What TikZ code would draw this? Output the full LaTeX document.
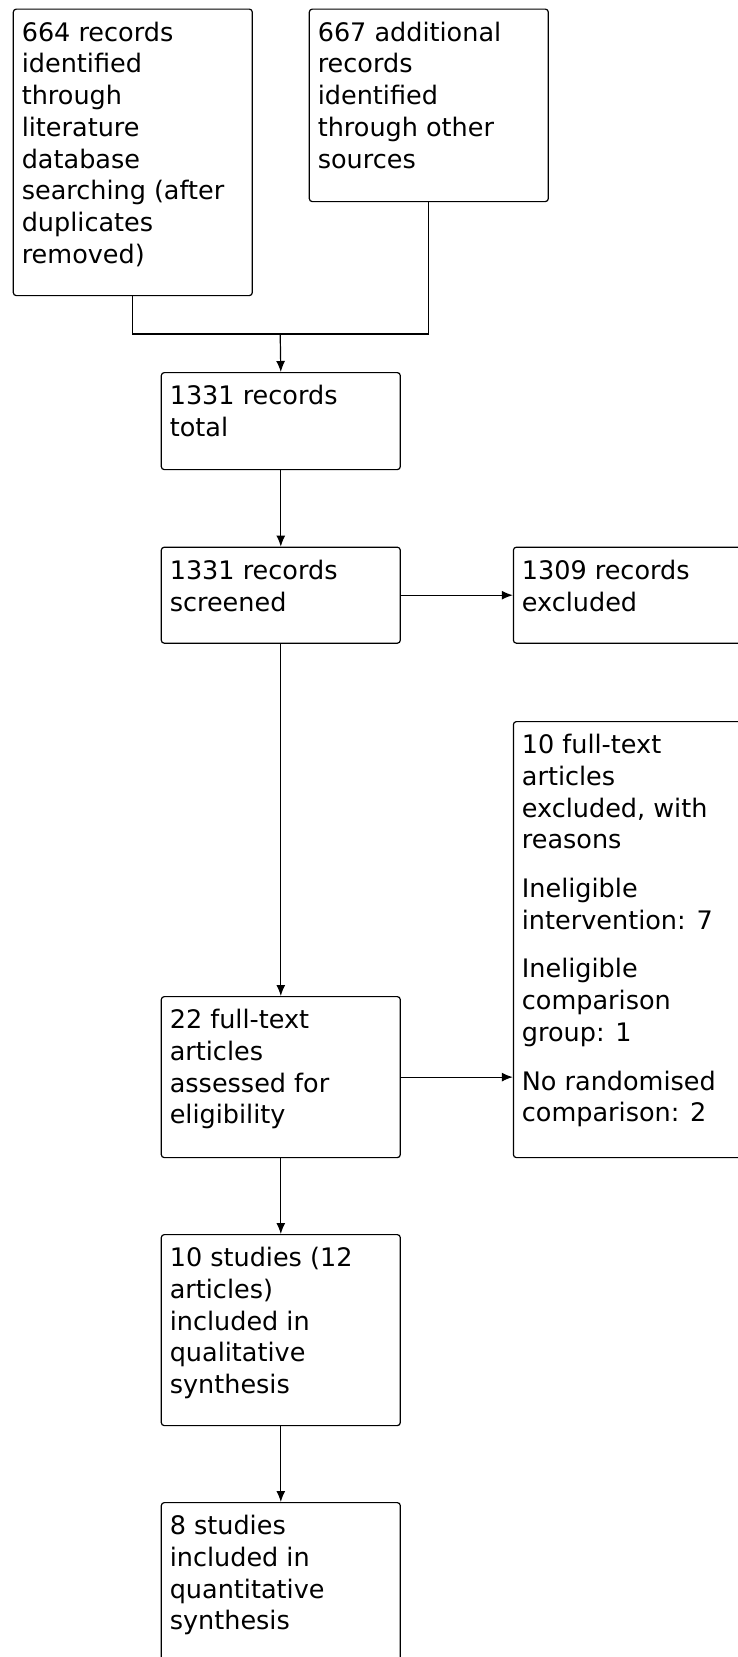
\documentclass[tikz,border=0pt]{standalone}
\usepackage{fontspec}
\setmainfont{DejaVu Sans}
\usepackage{tikz}
\usetikzlibrary{arrows.meta}

\newcommand{\boxtxt}[2]{\parbox[t][#1][t]{222pt}{\raggedright\strut#2}}
\newcommand{\gap}{\par\vspace{17pt}}

\begin{document}
\begin{tikzpicture}[x=1pt, y=-1pt,
        stage/.style={draw, line width=1.2pt, rounded corners=3pt, anchor=north west,
                      inner xsep=8.5pt, inner ysep=10pt,
                      font=\fontsize{25.5pt}{31.7pt}\selectfont},
        flow/.style={line width=1.2pt, -{Latex[length=11pt, width=9pt]}}]
        \path[use as bounding box, clip] (0,0) rectangle (738,1657);
        \fill[white] (0,0) rectangle (738,1657);

        % Nodes
        \node[stage] (ident) at (12.7, 8.5) {\boxtxt{266.5pt}{664 records\\identified\\through\\literature\\database\\searching (after\\duplicates\\removed)}};
        \node[stage] (other) at (308.7, 8.5) {\boxtxt{172.5pt}{667 additional\\records\\identified\\through other\\sources}};
        \node[stage] (total) at (160.7, 372) {\boxtxt{77pt}{1331 records\\total}};
        \node[stage] (screen) at (160.7, 546.6) {\boxtxt{76pt}{1331 records\\screened}};
        \node[stage] (excl) at (512.8, 546.6) {\boxtxt{76pt}{1309 records\\excluded}};
        \node[stage] (fullex) at (512.8, 721) {\boxtxt{416pt}{10 full-text\\articles\\excluded, with\\reasons\gap
            Ineligible\\intervention: 7\gap
            Ineligible\\comparison\\group: 1\gap
            No randomised\\comparison: 2}};
        \node[stage] (full) at (160.7, 996) {\boxtxt{141pt}{22 full-text\\articles\\assessed for\\eligibility}};
        \node[stage] (qual) at (160.7, 1234) {\boxtxt{171pt}{10 studies (12\\articles)\\included in\\qualitative\\synthesis}};
        \node[stage] (quant) at (160.7, 1502) {\boxtxt{171pt}{8 studies\\included in\\quantitative\\synthesis}};
        \coordinate (merge) at (280.2, 334);

        % Arrows
        \draw[line width=1.2pt] (ident.south) |- (merge);
        \draw[line width=1.2pt] (other.south) |- (merge);
        \draw[flow] (merge) -- (total.north);
        \draw[flow] (total) -- (screen);
        \draw[flow] (screen) -- (excl);
        \draw[flow] (screen) -- (full);
        \draw[flow] (full.east) -- (full.east -| fullex.west);
        \draw[flow] (full) -- (qual);
        \draw[flow] (qual) -- (quant);

    \end{tikzpicture}
\end{document}
